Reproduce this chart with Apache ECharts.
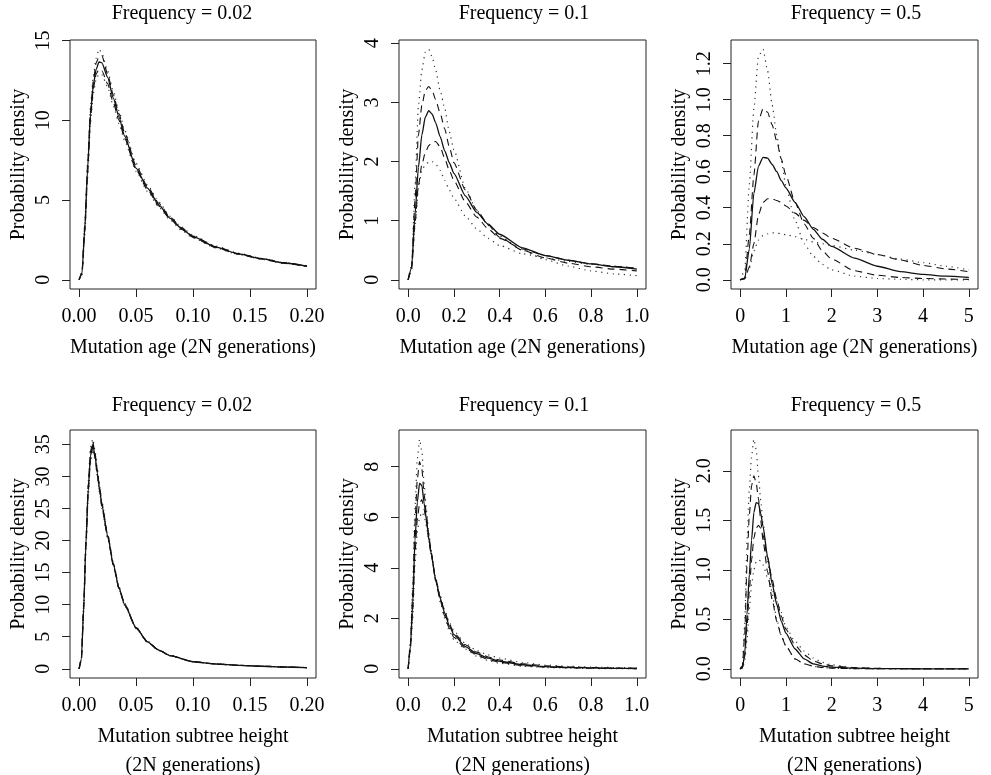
<!DOCTYPE html>
<html>
<head>
<meta charset="utf-8">
<script src="https://cdn.jsdelivr.net/npm/echarts@6/dist/echarts.min.js"></script>
<style>
html, body { margin: 0; padding: 0; background: #fff; }
#chart { width: 991px; height: 775px; }
</style>
</head>
<body>
<div id="chart"></div>
<script>
// ---- data ----
// top row: mutation age, bottom row: subtree height
// series order in every panel: upper dotted, upper dashed, solid, lower dashed, lower dotted

const titles = ['Frequency = 0.02', 'Frequency = 0.1', 'Frequency = 0.5',
                'Frequency = 0.02', 'Frequency = 0.1', 'Frequency = 0.5']

const xTicks1 = [0, 0.05, 0.1, 0.15, 0.2]
const xTicks2 = [0, 0.2, 0.4, 0.6, 0.8, 1.0]
const xTicks3 = [0, 1, 2, 3, 4, 5]
const yTicks1 = [0, 5, 10, 15]
const yTicks2 = [0, 1, 2, 3, 4]
const yTicks3 = [0, 0.2, 0.4, 0.6, 0.8, 1.0, 1.2]
const yTicks4 = [0, 5, 10, 15, 20, 25, 30, 35]
const yTicks5 = [0, 2, 4, 6, 8]
const yTicks6 = [0, 0.5, 1.0, 1.5, 2.0]

// panel 1: age, f = 0.02
const x1 = [0, 0.0025, 0.005, 0.0075, 0.01, 0.0125, 0.015, 0.0175, 0.02, 0.025, 0.03, 0.035, 0.04, 0.05, 0.06, 0.07, 0.08, 0.09, 0.1, 0.12, 0.14, 0.16, 0.18, 0.2]
const p1UpDot  = [0, 0.5, 3.6, 7.4, 10.9, 12.8, 13.9, 14.45, 14.2, 13.1, 11.8, 10.6, 9.35, 7.3, 5.95, 4.87, 3.98, 3.3, 2.78, 2.11, 1.67, 1.35, 1.08, 0.87]
const p1UpDash = [0, 0.45, 3.4, 7.2, 10.6, 12.5, 13.6, 14.0, 14.05, 12.9, 11.6, 10.4, 9.2, 7.15, 5.85, 4.8, 3.92, 3.25, 2.74, 2.08, 1.64, 1.33, 1.07, 0.86]
const p1Mid    = [0, 0.4, 3.2, 7.0, 10.4, 12.2, 13.2, 13.65, 13.6, 12.7, 11.4, 10.2, 9.0, 7.0, 5.75, 4.7, 3.85, 3.2, 2.7, 2.05, 1.62, 1.32, 1.05, 0.85]
const p1LoDash = [0, 0.35, 3.0, 6.7, 10.1, 12.0, 12.9, 13.2, 13.1, 12.3, 11.1, 10.0, 8.85, 6.9, 5.65, 4.62, 3.8, 3.15, 2.66, 2.02, 1.6, 1.3, 1.04, 0.84]
const p1LoDot  = [0, 0.3, 2.8, 6.4, 9.8, 11.7, 12.6, 12.9, 12.85, 12.1, 10.9, 9.8, 8.7, 6.8, 5.55, 4.55, 3.74, 3.1, 2.62, 1.99, 1.58, 1.29, 1.02, 0.82]

// panel 2: age, f = 0.1
const x2 = [0, 0.015, 0.03, 0.045, 0.06, 0.075, 0.09, 0.105, 0.12, 0.14, 0.16, 0.18, 0.2, 0.25, 0.3, 0.35, 0.4, 0.5, 0.6, 0.7, 0.8, 0.9, 1.0]
const p2UpDot  = [0, 0.25, 1.6, 2.95, 3.55, 3.85, 3.9, 3.77, 3.55, 3.2, 2.9, 2.5, 2.2, 1.55, 1.17, 0.92, 0.74, 0.5, 0.34, 0.23, 0.15, 0.1, 0.07]
const p2UpDash = [0, 0.22, 1.35, 2.45, 2.95, 3.2, 3.27, 3.2, 3.05, 2.82, 2.55, 2.25, 1.98, 1.52, 1.18, 0.93, 0.72, 0.5, 0.37, 0.28, 0.22, 0.18, 0.15]
const p2Mid    = [0, 0.2, 1.1, 1.9, 2.45, 2.75, 2.86, 2.8, 2.66, 2.42, 2.18, 1.98, 1.8, 1.42, 1.14, 0.94, 0.77, 0.54, 0.41, 0.33, 0.27, 0.22, 0.18]
const p2LoDash = [0, 0.18, 0.95, 1.6, 1.95, 2.15, 2.27, 2.33, 2.34, 2.25, 2.05, 1.85, 1.68, 1.32, 1.06, 0.86, 0.7, 0.52, 0.41, 0.33, 0.27, 0.23, 0.19]
const p2LoDot  = [0, 0.15, 0.9, 1.55, 1.85, 1.95, 1.99, 2.0, 1.96, 1.85, 1.68, 1.52, 1.38, 1.08, 0.86, 0.7, 0.58, 0.44, 0.37, 0.31, 0.26, 0.23, 0.2]

// panel 3: age, f = 0.5
const x3 = [0, 0.1, 0.2, 0.3, 0.4, 0.5, 0.6, 0.7, 0.8, 0.9, 1.0, 1.2, 1.4, 1.6, 1.8, 2.0, 2.5, 3, 3.5, 4, 4.5, 5]
const p3UpDot  = [0, 0.05, 0.53, 0.95, 1.24, 1.28, 1.16, 0.97, 0.8, 0.66, 0.52, 0.33, 0.2, 0.13, 0.085, 0.055, 0.02, 0.007, 0.002, 0, 0, 0]
const p3UpDash = [0, 0.01, 0.25, 0.58, 0.88, 0.95, 0.93, 0.86, 0.77, 0.67, 0.58, 0.43, 0.31, 0.23, 0.16, 0.115, 0.05, 0.025, 0.013, 0.007, 0.004, 0.002]
const p3Mid    = [0, 0.008, 0.17, 0.48, 0.63, 0.68, 0.675, 0.64, 0.6, 0.55, 0.51, 0.43, 0.35, 0.28, 0.225, 0.185, 0.12, 0.075, 0.045, 0.03, 0.02, 0.013]
const p3LoDash = [0, 0.005, 0.07, 0.2, 0.36, 0.43, 0.45, 0.45, 0.44, 0.43, 0.41, 0.37, 0.33, 0.29, 0.26, 0.23, 0.175, 0.14, 0.11, 0.08, 0.06, 0.045]
const p3LoDot  = [0, 0.005, 0.065, 0.16, 0.22, 0.245, 0.255, 0.26, 0.26, 0.255, 0.25, 0.24, 0.225, 0.21, 0.2, 0.19, 0.165, 0.14, 0.115, 0.095, 0.075, 0.055]

// panel 4: subtree height, f = 0.02
const x4 = [0, 0.002, 0.004, 0.006, 0.008, 0.01, 0.012, 0.014, 0.016, 0.018, 0.02, 0.025, 0.03, 0.035, 0.04, 0.05, 0.06, 0.07, 0.08, 0.1, 0.12, 0.14, 0.16, 0.18, 0.2]
const p4UpDot  = [0, 1.7, 10.2, 20.5, 29.2, 34.5, 35.8, 34.0, 31.2, 28.6, 26.0, 21.2, 16.6, 12.8, 10.2, 6.5, 4.3, 2.95, 2.1, 1.12, 0.76, 0.56, 0.41, 0.29, 0.19]
const p4UpDash = [0, 1.6, 9.9, 20.0, 28.6, 33.9, 35.4, 33.6, 30.9, 28.3, 25.8, 21.0, 16.45, 12.7, 10.1, 6.45, 4.25, 2.92, 2.07, 1.11, 0.76, 0.55, 0.41, 0.29, 0.19]
const p4Mid    = [0, 1.5, 9.5, 19.5, 28.0, 33.2, 35.0, 33.2, 30.5, 28.0, 25.5, 20.8, 16.3, 12.6, 10.0, 6.4, 4.2, 2.9, 2.05, 1.1, 0.75, 0.55, 0.4, 0.28, 0.18]
const p4LoDash = [0, 1.4, 9.1, 19.0, 27.4, 32.6, 34.6, 32.9, 30.2, 27.7, 25.2, 20.6, 16.15, 12.5, 9.9, 6.35, 4.15, 2.88, 2.03, 1.1, 0.75, 0.55, 0.4, 0.28, 0.18]
const p4LoDot  = [0, 1.3, 8.8, 18.5, 26.8, 32.0, 34.2, 32.6, 29.9, 27.4, 25.0, 20.4, 16.0, 12.4, 9.8, 6.3, 4.1, 2.85, 2.0, 1.09, 0.74, 0.54, 0.4, 0.28, 0.18]

// panel 5: subtree height, f = 0.1
const x5 = [0, 0.01, 0.02, 0.03, 0.04, 0.05, 0.06, 0.07, 0.08, 0.09, 0.1, 0.12, 0.14, 0.16, 0.18, 0.2, 0.25, 0.3, 0.35, 0.4, 0.5, 0.6, 0.7, 0.8, 0.9, 1.0]
const p5UpDot  = [0, 1.1, 3.4, 6.4, 8.3, 9.09, 8.6, 7.3, 6.3, 5.4, 4.7, 3.5, 2.65, 2.0, 1.5, 1.15, 0.78, 0.5, 0.33, 0.22, 0.1, 0.05, 0.025, 0.012, 0.006, 0.003]
const p5UpDash = [0, 1.0, 3.0, 5.8, 7.5, 8.2, 7.9, 6.9, 6.1, 5.3, 4.65, 3.5, 2.72, 2.08, 1.6, 1.25, 0.82, 0.55, 0.37, 0.26, 0.13, 0.07, 0.04, 0.025, 0.015, 0.008]
const p5Mid    = [0, 0.9, 2.6, 5.1, 6.6, 7.35, 7.25, 6.55, 5.9, 5.2, 4.6, 3.55, 2.8, 2.2, 1.7, 1.35, 0.88, 0.6, 0.42, 0.3, 0.16, 0.09, 0.055, 0.035, 0.022, 0.013]
const p5LoDash = [0, 0.8, 2.3, 4.6, 5.9, 6.55, 6.7, 6.3, 5.8, 5.15, 4.55, 3.55, 2.85, 2.25, 1.78, 1.42, 0.95, 0.66, 0.47, 0.35, 0.2, 0.12, 0.075, 0.05, 0.034, 0.024]
const p5LoDot  = [0, 0.7, 2.0, 4.1, 5.4, 6.0, 6.2, 6.05, 5.65, 5.1, 4.55, 3.6, 2.9, 2.32, 1.85, 1.5, 1.0, 0.72, 0.55, 0.42, 0.25, 0.15, 0.1, 0.07, 0.05, 0.035]

// panel 6: subtree height, f = 0.5
const x6 = [0, 0.05, 0.1, 0.15, 0.2, 0.25, 0.3, 0.35, 0.4, 0.45, 0.5, 0.6, 0.7, 0.8, 0.9, 1.0, 1.2, 1.4, 1.6, 1.8, 2.0, 2.5, 3, 3.5, 4, 4.5, 5]
const p6UpDot  = [0, 0.05, 0.45, 1.3, 1.81, 2.15, 2.32, 2.22, 1.95, 1.7, 1.48, 1.08, 0.76, 0.5, 0.34, 0.23, 0.1, 0.05, 0.025, 0.012, 0.006, 0.001, 0, 0, 0, 0, 0]
const p6UpDash = [0, 0.03, 0.35, 1.05, 1.55, 1.85, 1.95, 1.88, 1.72, 1.5, 1.3, 0.98, 0.7, 0.48, 0.33, 0.23, 0.1, 0.05, 0.026, 0.013, 0.007, 0.001, 0, 0, 0, 0, 0]
const p6Mid    = [0, 0.01, 0.15, 0.55, 0.95, 1.3, 1.58, 1.68, 1.67, 1.57, 1.44, 1.13, 0.86, 0.65, 0.48, 0.36, 0.2, 0.1, 0.05, 0.028, 0.017, 0.006, 0.002, 0.001, 0, 0, 0]
const p6LoDash = [0, 0.01, 0.12, 0.42, 0.78, 1.1, 1.32, 1.42, 1.45, 1.42, 1.35, 1.13, 0.9, 0.7, 0.53, 0.4, 0.24, 0.14, 0.08, 0.05, 0.03, 0.012, 0.005, 0.002, 0.001, 0, 0]
const p6LoDot  = [0, 0.005, 0.08, 0.3, 0.6, 0.85, 1.0, 1.08, 1.1, 1.09, 1.05, 0.92, 0.8, 0.68, 0.57, 0.42, 0.28, 0.18, 0.11, 0.065, 0.04, 0.012, 0.004, 0.001, 0, 0, 0]

// ---- layout ----
const FONT = 'Liberation Serif'
const ageName = 'Mutation age (2N generations)'
const heightName = 'Mutation subtree height\n(2N generations)'

const panels = [
    { box: [70, 40, 246, 249], titleX: 182, x: x1, xt: xTicks1, xd: 2, yt: yTicks1, yd: 0, xname: ageName, ys: [p1UpDot, p1UpDash, p1Mid, p1LoDash, p1LoDot] },
    { box: [399, 40, 247, 249], titleX: 524, x: x2, xt: xTicks2, xd: 1, yt: yTicks2, yd: 0, xname: ageName, ys: [p2UpDot, p2UpDash, p2Mid, p2LoDash, p2LoDot] },
    { box: [731, 40, 247, 249], titleX: 856, x: x3, xt: xTicks3, xd: 0, yt: yTicks3, yd: 1, xname: ageName, ys: [p3UpDot, p3UpDash, p3Mid, p3LoDash, p3LoDot] },
    { box: [70, 430, 246, 248], titleX: 182, x: x4, xt: xTicks1, xd: 2, yt: yTicks4, yd: 0, xname: heightName, ys: [p4UpDot, p4UpDash, p4Mid, p4LoDash, p4LoDot] },
    { box: [399, 430, 247, 248], titleX: 524, x: x5, xt: xTicks2, xd: 1, yt: yTicks5, yd: 0, xname: heightName, ys: [p5UpDot, p5UpDash, p5Mid, p5LoDash, p5LoDot] },
    { box: [731, 430, 247, 248], titleX: 856, x: x6, xt: xTicks3, xd: 0, yt: yTicks6, yd: 1, xname: heightName, ys: [p6UpDot, p6UpDash, p6Mid, p6LoDash, p6LoDot] }
]

const lineTypes = [
    { type: [1.2, 4.5], width: 1.2, color: '#333' },
    { type: [7, 5], width: 1.1, color: '#111' },
    { type: 'solid', width: 1.3, color: '#111' },
    { type: [7, 5], width: 1.1, color: '#111' },
    { type: [1.2, 4.5], width: 1.2, color: '#333' }
]

// R style axis range: data range padded by 4% on each side
function rRange (arrays) {
    let lo = Infinity
    let hi = -Infinity
    arrays.forEach(a => a.forEach(v => {
        if (v < lo) lo = v
        if (v > hi) hi = v
    }))
    const pad = (hi - lo) * 0.04
    return [lo - pad, hi + pad]
}

const textStyle = { fontFamily: FONT, fontSize: 20, color: '#000' }

const grid = []
const xAxis = []
const yAxis = []
const series = []
const graphic = []

panels.forEach((p, i) => {
    const xr = rRange([p.x])
    const yr = rRange(p.ys)
    const bottomRow = i >= 3
    grid.push({
        left: p.box[0], top: p.box[1], width: p.box[2], height: p.box[3],
        containLabel: false, outerBoundsMode: 'none',
        show: true, borderColor: '#222', borderWidth: 1, backgroundColor: 'transparent'
    })
    xAxis.push({
        type: 'value', gridIndex: i, min: xr[0], max: xr[1],
        name: p.xname, nameLocation: 'middle', nameGap: 44,
        nameTextStyle: Object.assign({ lineHeight: 29 }, textStyle),
        axisLine: { show: false, onZero: false },
        axisTick: { show: true, customValues: p.xt, length: 8, lineStyle: { color: '#222' } },
        axisLabel: Object.assign({ customValues: p.xt, margin: 18, formatter: v => v.toFixed(p.xd) }, textStyle),
        splitLine: { show: false }
    })
    yAxis.push({
        type: 'value', gridIndex: i, min: yr[0], max: yr[1],
        name: 'Probability density', nameLocation: 'middle', nameGap: 41,
        nameTextStyle: textStyle,
        axisLine: { show: false, onZero: false },
        axisTick: { show: true, customValues: p.yt, length: 8, lineStyle: { color: '#222' } },
        axisLabel: Object.assign({ customValues: p.yt, rotate: 90, margin: 16, formatter: v => v.toFixed(p.yd) }, textStyle),
        splitLine: { show: false }
    })
    p.ys.forEach((ys, k) => {
        series.push({
            type: 'line', xAxisIndex: i, yAxisIndex: i,
            data: p.x.map((xv, j) => [xv, ys[j]]),
            showSymbol: false, symbol: 'none',
            smooth: 0.2, smoothMonotone: 'x',
            lineStyle: lineTypes[k],
            z: k === 2 ? 3 : 2
        })
    })
    graphic.push({
        type: 'text',
        x: p.titleX, y: bottomRow ? 406 : 14,
        style: {
            text: titles[i], textAlign: 'center', textVerticalAlign: 'middle',
            font: '20px "' + FONT + '"', fill: '#000'
        }
    })
})

const chart = echarts.init(document.getElementById('chart'))
chart.setOption({
    animation: false,
    backgroundColor: '#fff',
    grid: grid,
    xAxis: xAxis,
    yAxis: yAxis,
    series: series,
    graphic: graphic
})
</script>
</body>
</html>
